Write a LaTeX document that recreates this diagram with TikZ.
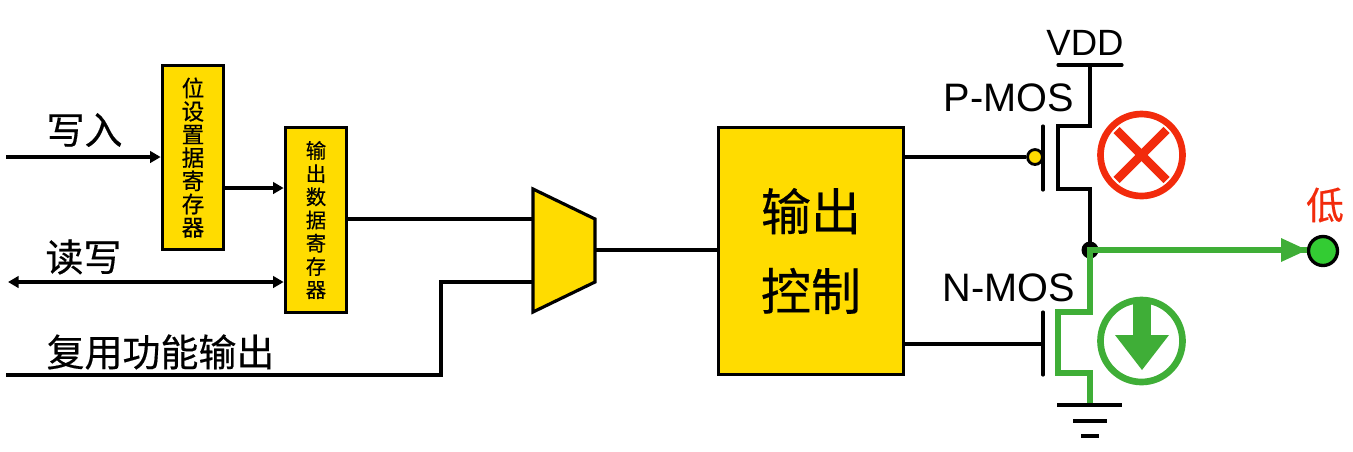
\documentclass[tikz,border=0pt]{standalone}
\usepackage{fontspec}
\setmainfont[FakeBold=0.4]{Noto Sans CJK SC}
\newfontfamily\latinfont{Liberation Sans}
\usetikzlibrary{arrows.meta}

\definecolor{boxyellow}{HTML}{FFDC00}
\definecolor{pathgreen}{HTML}{3FAE37}
\definecolor{dotgreen}{HTML}{33CC33}
\definecolor{offred}{HTML}{F22B0C}

\tikzset{
  wire/.style={line width=1.8pt},
  arrowwire/.style={wire, -{Triangle[length=6pt,width=6.5pt]}},
  bothwire/.style={wire, {Triangle[length=6pt,width=6.5pt]}-{Triangle[length=6pt,width=6.5pt]}},
  regbox/.style={draw, line width=1.8pt, fill=boxyellow, align=center, inner sep=0pt, minimum width=35pt},
  label/.style={inner sep=0pt, font=\fontsize{21.6}{21.6}\selectfont},
  moslabel/.style={inner sep=0pt, font=\latinfont\fontsize{22.6}{22.6}\selectfont},
  greenpath/.style={line width=3.4pt, draw=pathgreen, line join=miter}
}

\begin{document}
\begin{tikzpicture}[x=0.02cm,y=-0.02cm]
\useasboundingbox (0,0) rectangle (1353,451);

% registers and control block
\draw (193,157.5) node[regbox,minimum height=105pt,font=\fontsize{12.8}{13.2}\selectfont] (setreg) {位\\设\\置\\据\\寄\\存\\器};
\draw (316,220) node[regbox,minimum height=105.5pt,font=\fontsize{11.6}{13.2}\selectfont] (outreg) {输\\出\\数\\据\\寄\\存\\器};
\draw (811,251) node[regbox,minimum width=105.5pt,minimum height=140.5pt,font=\fontsize{28.5}{45.4}\selectfont] (ctrl) {\raisebox{-1.1pt}{输出}\\\raisebox{-1.1pt}{控制}};

% multiplexer
\coordinate (muxa) at (533,189);
\coordinate (muxb) at (595,219);
\coordinate (muxc) at (595,282);
\coordinate (muxd) at (533,312);
\coordinate (muxin) at (533,219);
\coordinate (muxalt) at (533,282);
\coordinate (muxout) at (595,250);
\draw[wire,fill=boxyellow,line join=miter] (muxa) -- (muxb) -- (muxc) -- (muxd) -- cycle;

% free ends
\coordinate (writein) at (6,157);
\coordinate (rwport) at (8,282);
\coordinate (altin) at (6,375);
\coordinate (altbend) at (441,375);

% left side wires
\draw[arrowwire] (writein) -- (writein -| setreg.west);
\draw[arrowwire] (setreg.east |- 0,188) -- (outreg.west |- 0,188);
\draw[bothwire] (rwport) -- (rwport -| outreg.west);
\draw[wire] (outreg.east |- muxin) -- (muxin);
\draw[wire,line join=miter] (altin) -- (altbend) -- (altbend |- muxalt) -- (muxalt);
\draw[wire] (muxout) -- (muxout -| ctrl.west);

\node[label] (writetext) at (84.5,130) {写入};
\node[label] (rwtext) at (83.5,257) {读写};
\node[label] (alttext) at (160.5,352) {复用功能输出};

% P-MOS
\coordinate (vddl) at (1058,65);
\coordinate (vddr) at (1122,65);
\coordinate (vddt) at (1090,65);
\coordinate (pd) at (1090,126);
\coordinate (pdc) at (1058,126);
\coordinate (psc) at (1058,189);
\coordinate (ps) at (1090,189);
\coordinate (pga) at (1043,126);
\coordinate (pgb) at (1043,190);
\coordinate (mid) at (1090,250);
\draw (1035,157) node[circle,draw,line width=1.6pt,fill=boxyellow,minimum size=8.5pt,inner sep=0pt] (pbub) {};
\draw[wire] (ctrl.east |- pbub) -- (pbub);
\draw[wire,line cap=round] (vddl) -- (vddr);
\draw[wire,line join=miter] (vddt) -- (pd) -- (pdc) -- (psc) -- (ps) -- (mid);
\draw[wire,line cap=round] (pga) -- (pgb);
\node[moslabel,font=\latinfont\fontsize{20.8}{20.8}\selectfont] (vddtext) at (1085,43) {VDD};
\node[moslabel] (ptext) at (1009,98) {P-MOS};

% N-MOS
\coordinate (nga) at (1043,312);
\coordinate (ngb) at (1043,375);
\coordinate (ngm) at (1043,344);
\coordinate (gnda) at (1057,405);
\coordinate (gndb) at (1122,405);
\coordinate (gndc) at (1073,421);
\coordinate (gndd) at (1107,421);
\coordinate (gnde) at (1081,436);
\coordinate (gndf) at (1099,436);
\draw[wire] (ctrl.east |- ngm) -- (ngm);
\draw[wire,line cap=round] (nga) -- (ngb);
\draw[line width=2.2pt] (gnda) -- (gndb);
\draw[line width=2.2pt] (gndc) -- (gndd);
\draw[line width=2.2pt] (gnde) -- (gndf);
\node[moslabel] (ntext) at (1009,288) {N-MOS};

% low output
\draw (1323,251) node[circle,draw,line width=1.9pt,fill=dotgreen,minimum size=16.5pt,inner sep=0pt] (outdot) {};
\fill (mid) circle (8.5);
\coordinate (nd) at (1090,312);
\coordinate (ndc) at (1058,312);
\coordinate (nsc) at (1058,373);
\coordinate (ns) at (1090,373);
\coordinate (nst) at (1090,403);
\draw[greenpath] (nst) -- (ns) -- (nsc) -- (ndc) -- (nd) -- (mid) -- (outdot.west |- mid);
\fill[pathgreen] (1307,250) -- (1281,238) -- (1281,262) -- cycle;
\node[label,text=offred,font=\fontsize{21.5}{21.5}\selectfont] (lowtext) at (1325,205) {低};

% state marks
\draw[offred,line width=3.8pt] (1141.5,155) circle (41);
\draw[offred,line width=5pt] (1116.5,130) -- (1166.5,180);
\draw[offred,line width=5pt] (1166.5,130) -- (1116.5,180);
\draw[pathgreen,line width=3.8pt] (1141.5,341) circle (41);
\fill[pathgreen] (1133,303) rectangle (1151,336);
\fill[pathgreen] (1115,335) -- (1169,335) -- (1142,370) -- cycle;

\end{tikzpicture}
\end{document}
